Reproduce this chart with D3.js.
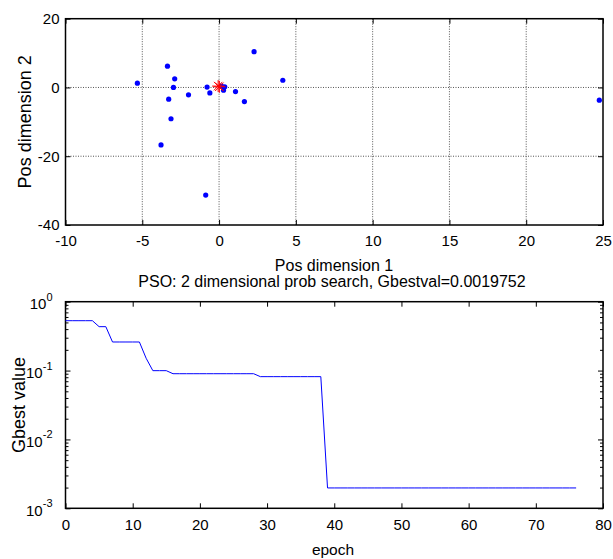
<!DOCTYPE html>
<html>
<head>
<meta charset="utf-8">
<script src="https://cdn.jsdelivr.net/npm/d3@7"></script>
<style>
  body { margin: 0; background: #fff; }
  text { font-family: "Liberation Sans", Arial, sans-serif; fill: #000; }
</style>
</head>
<body>
<script>
// Particle positions (top plot)
const posX = [-5.32, -3.36, -2.89, -2.97, -3.28, -3.13, -3.78, -1.99, -0.78, -0.6, -0.87,
              0.16, 0.37, 0.29, 1.07, 1.65, 2.28, 4.15, 24.76];
const posY = [1.25, 6.2, 2.5, 0.0, -3.4, -9.1, -16.7, -2.15, 0.1, -1.6, -31.3,
              0.4, 0.2, -0.8, -1.2, -4.1, 10.4, 2.1, -3.7];
// global best marker(s)
const bestX = [-0.06, 0.02];
const bestY = [0.4, 0.2];

// Gbest per epoch (bottom plot)
const epochs = d3.range(0, 77);
const gbest = [
  0.53, 0.53, 0.53, 0.53, 0.53, 0.434, 0.434, 0.26, 0.26, 0.26,
  0.26, 0.26, 0.151, 0.0997, 0.0997, 0.0997, 0.090, 0.090, 0.090, 0.090,
  0.090, 0.090, 0.090, 0.090, 0.090, 0.090, 0.090, 0.090, 0.090, 0.0816,
  0.0816, 0.0816, 0.0816, 0.0816, 0.0816, 0.0816, 0.0816, 0.0816, 0.0816, 0.0019752,
  0.0019752, 0.0019752, 0.0019752, 0.0019752, 0.0019752, 0.0019752, 0.0019752, 0.0019752, 0.0019752, 0.0019752,
  0.0019752, 0.0019752, 0.0019752, 0.0019752, 0.0019752, 0.0019752, 0.0019752, 0.0019752, 0.0019752, 0.0019752,
  0.0019752, 0.0019752, 0.0019752, 0.0019752, 0.0019752, 0.0019752, 0.0019752, 0.0019752, 0.0019752, 0.0019752,
  0.0019752, 0.0019752, 0.0019752, 0.0019752, 0.0019752, 0.0019752, 0.0019752
];

const xTicksTop = [-10, -5, 0, 5, 10, 15, 20, 25];
const yTicksTop = [-40, -20, 0, 20];
const xTicksBot = [0, 10, 20, 30, 40, 50, 60, 70, 80];
const yTicksBot = [1e-3, 1e-2, 1e-1, 1];

const W = 613, H = 559;
const left = 65.5, right = 603;
const plain = d => String(d);   // keep ascii hyphen like matlab

const svg = d3.select("body").append("svg")
    .attr("width", W).attr("height", H);
svg.append("rect").attr("width", W).attr("height", H).attr("fill", "#fff");

// ---------- top plot ----------
const t = {top: 18.7, bottom: 225};
const x1 = d3.scaleLinear().domain([-10, 25]).range([left, right]);
const y1 = d3.scaleLinear().domain([-40, 20]).range([t.bottom, t.top]);

const g1 = svg.append("g");

// dotted grid
g1.selectAll("line.vgrid").data(xTicksTop.slice(1, -1)).join("line")
    .attr("x1", d => x1(d)).attr("x2", d => x1(d))
    .attr("y1", t.top).attr("y2", t.bottom)
    .attr("stroke", "#555").attr("stroke-width", 1).attr("stroke-dasharray", "1,1.5");
g1.selectAll("line.hgrid").data(yTicksTop.slice(1, -1)).join("line")
    .attr("x1", left).attr("x2", right)
    .attr("y1", d => y1(d)).attr("y2", d => y1(d))
    .attr("stroke", "#555").attr("stroke-width", 1).attr("stroke-dasharray", "1,1.5");

function styleAxis(sel) {
    sel.select(".domain").remove();
    sel.selectAll("line").attr("stroke", "#000");
    sel.selectAll("text").style("font-size", "15px");
}

g1.append("g").attr("transform", `translate(0,${t.bottom})`)
    .call(d3.axisBottom(x1).tickValues(xTicksTop).tickSize(-5).tickPadding(10).tickFormat(plain))
    .call(styleAxis);
g1.append("g").attr("transform", `translate(0,${t.top})`)
    .call(d3.axisTop(x1).tickValues(xTicksTop).tickSize(-5).tickFormat(""))
    .call(styleAxis);
g1.append("g").attr("transform", `translate(${left},0)`)
    .call(d3.axisLeft(y1).tickValues(yTicksTop).tickSize(-5).tickPadding(6).tickFormat(plain))
    .call(styleAxis);
g1.append("g").attr("transform", `translate(${right},0)`)
    .call(d3.axisRight(y1).tickValues(yTicksTop).tickSize(-5).tickFormat(""))
    .call(styleAxis);

g1.append("rect")
    .attr("x", left).attr("y", t.top)
    .attr("width", right - left).attr("height", t.bottom - t.top)
    .attr("fill", "none").attr("stroke", "#000").attr("stroke-width", 1.5);

// particles
g1.selectAll("circle.p").data(posX).join("circle")
    .attr("cx", (d, i) => x1(d)).attr("cy", (d, i) => y1(posY[i]))
    .attr("r", 2.6).attr("fill", "#0000ff");

// best marker (asterisk)
const star = d3.symbol().type({
    draw(ctx, size) {
        const r = Math.sqrt(size) / 2;
        const k = r * Math.SQRT1_2;
        ctx.moveTo(-r, 0); ctx.lineTo(r, 0);
        ctx.moveTo(0, -r); ctx.lineTo(0, r);
        ctx.moveTo(-k, -k); ctx.lineTo(k, k);
        ctx.moveTo(-k, k); ctx.lineTo(k, -k);
    }
}).size(144);
g1.selectAll("path.best").data(bestX).join("path")
    .attr("transform", (d, i) => `translate(${x1(d)},${y1(bestY[i])})`)
    .attr("d", star)
    .attr("fill", "none").attr("stroke", "#ff0000").attr("stroke-width", 1);

svg.append("text").attr("x", 334).attr("y", 271)
    .attr("text-anchor", "middle").style("font-size", "16px")
    .text("Pos dimension 1");
svg.append("text")
    .attr("transform", `translate(31,${(t.top + t.bottom) / 2}) rotate(-90)`)
    .attr("text-anchor", "middle").style("font-size", "18px")
    .text("Pos dimension 2");

// ---------- bottom plot ----------
const b = {top: 301.7, bottom: 508.3};
const x2 = d3.scaleLinear().domain([0, 80]).range([left, right]);
const y2 = d3.scaleLog().domain([1e-3, 1]).range([b.bottom, b.top]);

const g2 = svg.append("g");

const minor = [];
[1e-3, 1e-2, 1e-1].forEach(dec => { for (let m = 2; m <= 9; m++) minor.push(dec * m); });

g2.append("g").attr("transform", `translate(0,${b.bottom})`)
    .call(d3.axisBottom(x2).tickValues(xTicksBot).tickSize(-5).tickPadding(11).tickFormat(plain))
    .call(styleAxis);
g2.append("g").attr("transform", `translate(0,${b.top})`)
    .call(d3.axisTop(x2).tickValues(xTicksBot).tickSize(-5).tickFormat(""))
    .call(styleAxis);

const yl = g2.append("g").attr("transform", `translate(${left},0)`)
    .call(d3.axisLeft(y2).tickValues(yTicksBot).tickSize(-5).tickPadding(13).tickFormat(""))
    .call(styleAxis);
yl.selectAll(".tick text").each(function(d) {
    const s = d3.select(this);
    s.attr("dy", "0.45em");
    s.append("tspan").text("10");
    s.append("tspan").attr("dy", "-0.75em").style("font-size", "11px").text(Math.round(Math.log10(d)));
});
g2.append("g").attr("transform", `translate(${left},0)`)
    .call(d3.axisLeft(y2).tickValues(minor).tickSize(-3).tickFormat(""))
    .call(styleAxis);
g2.append("g").attr("transform", `translate(${right},0)`)
    .call(d3.axisRight(y2).tickValues(yTicksBot).tickSize(-5).tickFormat(""))
    .call(styleAxis);
g2.append("g").attr("transform", `translate(${right},0)`)
    .call(d3.axisRight(y2).tickValues(minor).tickSize(-3).tickFormat(""))
    .call(styleAxis);

g2.append("rect")
    .attr("x", left).attr("y", b.top)
    .attr("width", right - left).attr("height", b.bottom - b.top)
    .attr("fill", "none").attr("stroke", "#000").attr("stroke-width", 1.5);

const line = d3.line()
    .x((d, i) => x2(epochs[i]))
    .y(d => y2(d));
g2.append("path").datum(gbest)
    .attr("d", line)
    .attr("fill", "none").attr("stroke", "#0000ff").attr("stroke-width", 1);

svg.append("text").attr("x", 332).attr("y", 287)
    .attr("text-anchor", "middle").style("font-size", "16px")
    .text("PSO: 2 dimensional prob search, Gbestval=0.0019752");
svg.append("text").attr("x", 333).attr("y", 555)
    .attr("text-anchor", "middle").style("font-size", "15.5px")
    .text("epoch");
svg.append("text")
    .attr("transform", `translate(25,${(b.top + b.bottom) / 2}) rotate(-90)`)
    .attr("text-anchor", "middle").style("font-size", "18px")
    .text("Gbest value");
</script>
</body>
</html>
